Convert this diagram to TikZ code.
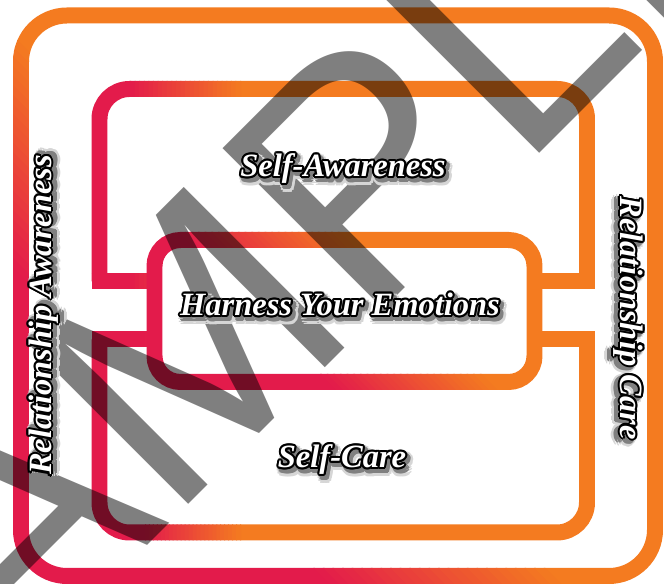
\documentclass[tikz,border=0pt]{standalone}
\usepackage{fontspec}
\newfontfamily\wmfont{Liberation Sans}
\newfontfamily\capfont{Liberation Serif}
\usetikzlibrary{calc}

\definecolor{rosered}{HTML}{E31B4B}
\definecolor{tangerine}{HTML}{F47B20}

% 文字: 白字 + 黑边 + 阴影
\newsavebox\haloA
\newsavebox\haloB
\newsavebox\haloC
\newcommand\glowtext[1]{%
  \begingroup
  \sbox\haloA{\color{black!16}#1}%
  \sbox\haloB{\color{black!50}#1}%
  \sbox\haloC{\color{black}#1}%
  \foreach \ang in {0,30,...,330}{%
    \pgfmathsetlengthmacro\gx{1.8pt+2.8pt*cos(\ang)}%
    \pgfmathsetlengthmacro\gy{-2.6pt+2.8pt*sin(\ang)}%
    \rlap{\hspace*{\gx}\raisebox{\gy}{\usebox\haloA}}%
  }%
  \foreach \ang in {0,30,...,330}{%
    \pgfmathsetlengthmacro\gx{1.5pt+1.6pt*cos(\ang)}%
    \pgfmathsetlengthmacro\gy{-2pt+1.6pt*sin(\ang)}%
    \rlap{\hspace*{\gx}\raisebox{\gy}{\usebox\haloB}}%
  }%
  \foreach \ang in {0,30,...,330}{%
    \pgfmathsetlengthmacro\gx{1.2pt*cos(\ang)}%
    \pgfmathsetlengthmacro\gy{1.2pt*sin(\ang)}%
    \rlap{\hspace*{\gx}\raisebox{\gy}{\usebox\haloC}}%
  }%
  \color{white}#1%
  \endgroup}

% 渐变描边: #1 方向角, #2 红色止点, #3 橙色起点, #4 路径
\newcommand\gradstroke[4]{%
  \begin{scope}
    \clip[rotate=#1] (-3000,-3000) rectangle (#2+1,3000);
    \colorlet{gradcol}{rosered}#4
  \end{scope}
  \begin{scope}
    \clip[rotate=#1] (#3,-3000) rectangle (3000,3000);
    \colorlet{gradcol}{tangerine}#4
  \end{scope}
  \foreach \k in {0,...,23}{%
    \pgfmathsetmacro\pa{#2+(#3-#2)*\k/24}
    \pgfmathsetmacro\pb{#2+(#3-#2)*(\k+1)/24+1}
    \pgfmathsetmacro\pc{int(100*(\k+0.5)/24)}
    \begin{scope}
      \clip[rotate=#1] (\pa,-3000) rectangle (\pb,3000);
      \colorlet{gradcol}{tangerine!\pc!rosered}#4
    \end{scope}
  }}

\begin{document}
\begin{tikzpicture}[x=0.02cm, y=0.02cm,
    band/.style={line width=0.32cm, draw=gradcol},
    caption/.style={inner sep=1pt, font=\capfont\bfseries\itshape\fontsize{18.5}{20}\selectfont}]
    \useasboundingbox[fill=white] (0,0) rectangle (664,584);

    % 外框
    \gradstroke{45}{233}{396}{\draw[band, rounded corners=0.92cm] (21,8) rectangle (655,568.5);}

    % 上方框及连接条
    \gradstroke{0}{130}{240}{%
        \draw[band, rounded corners=0.6cm] (99.5,302.5) -- (99.5,495) -- (587,495) -- (587,302.5);
        \draw[band] (91.5,302.5) -- (154.5,302.5) (534.5,302.5) -- (595,302.5);}

    % 下方框及连接条
    \gradstroke{0}{145}{240}{%
        \draw[band, rounded corners=0.6cm] (99.5,244.5) -- (99.5,51.5) -- (587,51.5) -- (587,244.5);
        \draw[band] (91.5,244.5) -- (154.5,244.5) (534.5,244.5) -- (595,244.5);}

    % 中间框
    \gradstroke{45}{375}{488}{\draw[band, rounded corners=0.52cm] (154.5,202) rectangle (534.5,344);}

    % 水印
    \node[rotate=45, anchor=base west, inner sep=0, text=black, text opacity=0.5,
        font=\wmfont\fontsize{188}{188}\selectfont] (sample) at (-142,-251) {SAMPLE};

    % 文字
    \node[caption] (selfaware) at (343,412) {\glowtext{Self-Awareness}};
    \node[caption] (harness) at (340,276) {\glowtext{Harness Your Emotions}};
    \node[caption] (selfcare) at (342,121) {\glowtext{Self-Care}};
    \node[caption, rotate=90] (relaware) at (47,269) {\glowtext{Relationship Awareness}};
    \node[caption, rotate=-90] (relcare) at (625,266) {\glowtext{Relationship Care}};
\end{tikzpicture}
\end{document}
